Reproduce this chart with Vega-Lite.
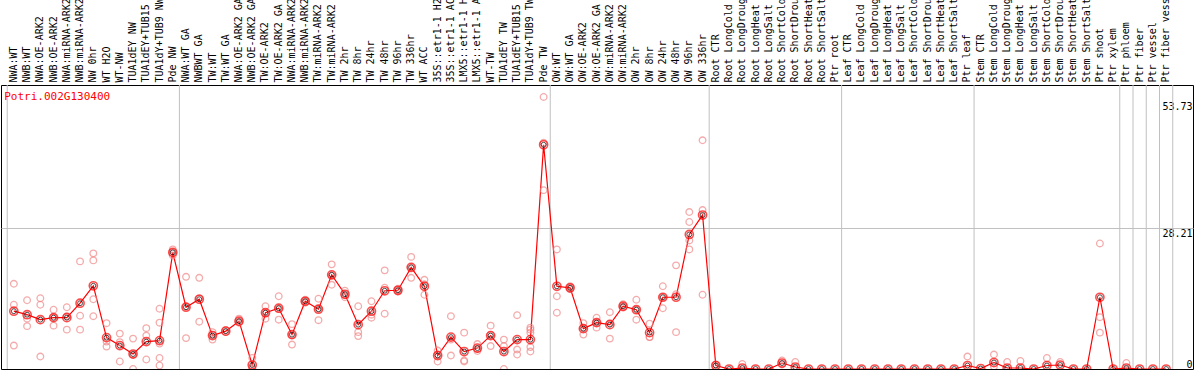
{
  "$schema": "https://vega.github.io/schema/vega-lite/v6.json",
  "width": 1192,
  "height": 284,
  "autosize": "none",
  "padding": {"left": 1, "top": 85, "right": 1, "bottom": 1},
  "background": "white",
  "config": {"view": {"stroke": "black", "strokeWidth": 1}},
  "datasets": {
    "means": [
      {"t": "NWA:WT", "v": 11.6}, {"t": "NWB:WT", "v": 10.9}, {"t": "NWA:OE-ARK2", "v": 9.9}, {"t": "NWB:OE-ARK2", "v": 10.3},
      {"t": "NWA:miRNA-ARK2", "v": 10.3}, {"t": "NWB:miRNA-ARK2", "v": 13.2}, {"t": "NW 0hr", "v": 16.7}, {"t": "WT H2O", "v": 6.3},
      {"t": "WT-NW", "v": 4.7}, {"t": "TUA1dEY NW", "v": 3.0}, {"t": "TUA1dEY+TUB15 NW", "v": 5.5}, {"t": "TUA1dY+TUB9 NW", "v": 5.7},
      {"t": "Pde NW", "v": 23.4}, {"t": "NWA:WT GA", "v": 12.4}, {"t": "NWBWT GA", "v": 14.0}, {"t": "TW:WT", "v": 6.7},
      {"t": "TW:WT GA", "v": 7.6}, {"t": "NWA:OE-ARK2 GA", "v": 9.6}, {"t": "NWB:OE-ARK2 GA", "v": 0.8}, {"t": "TW:OE-ARK2", "v": 11.3},
      {"t": "TW:OE-ARK2 GA", "v": 12.2}, {"t": "NWA:miRNA-ARK2 GA", "v": 6.9}, {"t": "NWB:miRNA-ARK2 GA", "v": 13.6}, {"t": "TW:miRNA-ARK2", "v": 12.0},
      {"t": "TW:miRNA-ARK2 GA", "v": 18.9}, {"t": "TW 2hr", "v": 15.0}, {"t": "TW 8hr", "v": 8.9}, {"t": "TW 24hr", "v": 11.6},
      {"t": "TW 48hr", "v": 15.7}, {"t": "TW 96hr", "v": 15.8}, {"t": "TW 336hr", "v": 20.4}, {"t": "WT ACC", "v": 16.6},
      {"t": "35S::etr1-1 H2O", "v": 2.7}, {"t": "35S::etr1-1 ACC", "v": 6.4}, {"t": "LMX5::etr1-1 H2O", "v": 3.5}, {"t": "LMX5::etr1-1 ACC", "v": 4.2},
      {"t": "WT-TW", "v": 6.7}, {"t": "TUA1dEY TW", "v": 3.5}, {"t": "TUA1dEY+TUB15 TW", "v": 5.9}, {"t": "TUA1dY+TUB9 TW", "v": 5.9},
      {"t": "Pde TW", "v": 45.0}, {"t": "OW:WT", "v": 16.6}, {"t": "OW:WT GA", "v": 16.3}, {"t": "OW:OE-ARK2", "v": 8.1},
      {"t": "OW:OE-ARK2 GA", "v": 9.3}, {"t": "OW:miRNA-ARK2", "v": 8.9}, {"t": "OW:miRNA-ARK2 GA", "v": 12.6}, {"t": "OW 2hr", "v": 11.9},
      {"t": "OW 8hr", "v": 7.3}, {"t": "OW 24hr", "v": 14.4}, {"t": "OW 48hr", "v": 14.4}, {"t": "OW 96hr", "v": 27.0},
      {"t": "OW 336hr", "v": 30.9}, {"t": "Root CTR", "v": 0.7}, {"t": "Root LongCold", "v": 0}, {"t": "Root LongDrought", "v": 0.2},
      {"t": "Root LongHeat", "v": 0}, {"t": "Root LongSalt", "v": 0}, {"t": "Root ShortCold", "v": 1.2}, {"t": "Root ShortDrought", "v": 0.4},
      {"t": "Root ShortHeat", "v": 0}, {"t": "Root ShortSalt", "v": 0}, {"t": "Ptr root", "v": 0}, {"t": "Leaf CTR", "v": 0},
      {"t": "Leaf LongCold", "v": 0}, {"t": "Leaf LongDrought", "v": 0}, {"t": "Leaf LongHeat", "v": 0}, {"t": "Leaf LongSalt", "v": 0},
      {"t": "Leaf ShortCold", "v": 0}, {"t": "Leaf ShortDrought", "v": 0}, {"t": "Leaf ShortHeat", "v": 0}, {"t": "Leaf ShortSalt", "v": 0},
      {"t": "Ptr leaf", "v": 0.7}, {"t": "Stem CTR", "v": 0.1}, {"t": "Stem LongCold", "v": 1.3}, {"t": "Stem LongDrought", "v": 0.2},
      {"t": "Stem LongHeat", "v": 0.2}, {"t": "Stem LongSalt", "v": 0}, {"t": "Stem ShortCold", "v": 0.7}, {"t": "Stem ShortDrought", "v": 0.8},
      {"t": "Stem ShortHeat", "v": 0}, {"t": "Stem ShortSalt", "v": 0}, {"t": "Ptr shoot", "v": 14.4}, {"t": "Ptr xylem", "v": 0},
      {"t": "Ptr phloem", "v": 0.2}, {"t": "Ptr fiber", "v": 0}, {"t": "Ptr vessel", "v": 0}, {"t": "Ptr fiber vessel", "v": 0}
    ],
    "reps": [
      {"t": "NWA:WT", "v": 17.1}, {"t": "NWA:WT", "v": 12.9}, {"t": "NWA:WT", "v": 4.7},
      {"t": "NWB:WT", "v": 13.8}, {"t": "NWB:WT", "v": 10.1}, {"t": "NWB:WT", "v": 8.6},
      {"t": "NWA:OE-ARK2", "v": 14.2}, {"t": "NWA:OE-ARK2", "v": 12.9}, {"t": "NWA:OE-ARK2", "v": 2.5},
      {"t": "NWB:OE-ARK2", "v": 11.9}, {"t": "NWB:OE-ARK2", "v": 8.7}, {"t": "NWB:OE-ARK2", "v": 10.3},
      {"t": "NWA:miRNA-ARK2", "v": 12.4}, {"t": "NWA:miRNA-ARK2", "v": 7.9}, {"t": "NWA:miRNA-ARK2", "v": 10.6},
      {"t": "NWB:miRNA-ARK2", "v": 21.6}, {"t": "NWB:miRNA-ARK2", "v": 10.7}, {"t": "NWB:miRNA-ARK2", "v": 7.9},
      {"t": "NW 0hr", "v": 23.2}, {"t": "NW 0hr", "v": 21.8}, {"t": "NW 0hr", "v": 14.0}, {"t": "NW 0hr", "v": 10.6},
      {"t": "WT H2O", "v": 9.2}, {"t": "WT H2O", "v": 5.5}, {"t": "WT H2O", "v": 4.5},
      {"t": "WT-NW", "v": 7.1}, {"t": "WT-NW", "v": 5.4}, {"t": "WT-NW", "v": 1.5},
      {"t": "TUA1dEY NW", "v": 6.1}, {"t": "TUA1dEY NW", "v": 0}, {"t": "TUA1dEY NW", "v": 2.9},
      {"t": "TUA1dEY+TUB15 NW", "v": 8.2}, {"t": "TUA1dEY+TUB15 NW", "v": 6.7}, {"t": "TUA1dEY+TUB15 NW", "v": 1.9},
      {"t": "TUA1dY+TUB9 NW", "v": 12.1}, {"t": "TUA1dY+TUB9 NW", "v": 9.3}, {"t": "TUA1dY+TUB9 NW", "v": 5.1}, {"t": "TUA1dY+TUB9 NW", "v": 2.2}, {"t": "TUA1dY+TUB9 NW", "v": 0.7},
      {"t": "Pde NW", "v": 24.0}, {"t": "Pde NW", "v": 23.4}, {"t": "Pde NW", "v": 22.8},
      {"t": "NWA:WT GA", "v": 18.5}, {"t": "NWA:WT GA", "v": 6.2}, {"t": "NWA:WT GA", "v": 12.5},
      {"t": "NWBWT GA", "v": 18.3}, {"t": "NWBWT GA", "v": 9.5}, {"t": "NWBWT GA", "v": 14.2},
      {"t": "TW:WT", "v": 7.4}, {"t": "TW:WT", "v": 5.9}, {"t": "TW:WT", "v": 6.8},
      {"t": "TW:WT GA", "v": 7.8}, {"t": "TW:WT GA", "v": 7.4},
      {"t": "NWA:OE-ARK2 GA", "v": 10.1}, {"t": "NWA:OE-ARK2 GA", "v": 9.3}, {"t": "NWA:OE-ARK2 GA", "v": 9.4},
      {"t": "NWB:OE-ARK2 GA", "v": 2.2}, {"t": "NWB:OE-ARK2 GA", "v": 0}, {"t": "NWB:OE-ARK2 GA", "v": 0.2},
      {"t": "TW:OE-ARK2", "v": 12.6}, {"t": "TW:OE-ARK2", "v": 10.1}, {"t": "TW:OE-ARK2", "v": 11.2},
      {"t": "TW:OE-ARK2 GA", "v": 14.6}, {"t": "TW:OE-ARK2 GA", "v": 9.9}, {"t": "TW:OE-ARK2 GA", "v": 12.1},
      {"t": "NWA:miRNA-ARK2 GA", "v": 9.0}, {"t": "NWA:miRNA-ARK2 GA", "v": 4.9}, {"t": "NWA:miRNA-ARK2 GA", "v": 6.8},
      {"t": "NWB:miRNA-ARK2 GA", "v": 13.9}, {"t": "NWB:miRNA-ARK2 GA", "v": 13.3}, {"t": "NWB:miRNA-ARK2 GA", "v": 13.6},
      {"t": "TW:miRNA-ARK2", "v": 14.1}, {"t": "TW:miRNA-ARK2", "v": 9.8}, {"t": "TW:miRNA-ARK2", "v": 12.1},
      {"t": "TW:miRNA-ARK2 GA", "v": 21.0}, {"t": "TW:miRNA-ARK2 GA", "v": 16.9}, {"t": "TW:miRNA-ARK2 GA", "v": 18.8},
      {"t": "TW 2hr", "v": 15.7}, {"t": "TW 2hr", "v": 14.4}, {"t": "TW 2hr", "v": 14.9},
      {"t": "TW 8hr", "v": 12.6}, {"t": "TW 8hr", "v": 7.4}, {"t": "TW 8hr", "v": 6.6},
      {"t": "TW 24hr", "v": 13.6}, {"t": "TW 24hr", "v": 10.3}, {"t": "TW 24hr", "v": 10.9},
      {"t": "TW 48hr", "v": 19.8}, {"t": "TW 48hr", "v": 16.3}, {"t": "TW 48hr", "v": 11.1},
      {"t": "TW 96hr", "v": 15.5}, {"t": "TW 96hr", "v": 16.1}, {"t": "TW 96hr", "v": 15.8},
      {"t": "TW 336hr", "v": 22.5}, {"t": "TW 336hr", "v": 18.3}, {"t": "TW 336hr", "v": 20.4},
      {"t": "WT ACC", "v": 17.9}, {"t": "WT ACC", "v": 14.9}, {"t": "WT ACC", "v": 17.0},
      {"t": "35S::etr1-1 H2O", "v": 3.7}, {"t": "35S::etr1-1 H2O", "v": 1.5}, {"t": "35S::etr1-1 H2O", "v": 2.9},
      {"t": "35S::etr1-1 ACC", "v": 10.6}, {"t": "35S::etr1-1 ACC", "v": 2.7}, {"t": "35S::etr1-1 ACC", "v": 5.9},
      {"t": "LMX5::etr1-1 H2O", "v": 7.3}, {"t": "LMX5::etr1-1 H2O", "v": 1.5}, {"t": "LMX5::etr1-1 H2O", "v": 1.7},
      {"t": "LMX5::etr1-1 ACC", "v": 5.0}, {"t": "LMX5::etr1-1 ACC", "v": 3.6}, {"t": "LMX5::etr1-1 ACC", "v": 4.0},
      {"t": "WT-TW", "v": 8.7}, {"t": "WT-TW", "v": 4.6}, {"t": "WT-TW", "v": 6.8},
      {"t": "TUA1dEY TW", "v": 5.9}, {"t": "TUA1dEY TW", "v": 0}, {"t": "TUA1dEY TW", "v": 4.6},
      {"t": "TUA1dEY+TUB15 TW", "v": 10.8}, {"t": "TUA1dEY+TUB15 TW", "v": 3.9}, {"t": "TUA1dEY+TUB15 TW", "v": 2.9},
      {"t": "TUA1dY+TUB9 TW", "v": 8.3}, {"t": "TUA1dY+TUB9 TW", "v": 7.9}, {"t": "TUA1dY+TUB9 TW", "v": 7.3}, {"t": "TUA1dY+TUB9 TW", "v": 4.4}, {"t": "TUA1dY+TUB9 TW", "v": 3.5},
      {"t": "Pde TW", "v": 54.6}, {"t": "Pde TW", "v": 35.9}, {"t": "Pde TW", "v": 45.4},
      {"t": "OW:WT", "v": 24.0}, {"t": "OW:WT", "v": 14.6}, {"t": "OW:WT", "v": 11.3},
      {"t": "OW:WT GA", "v": 16.6}, {"t": "OW:WT GA", "v": 16.0}, {"t": "OW:WT GA", "v": 16.3},
      {"t": "OW:OE-ARK2", "v": 9.2}, {"t": "OW:OE-ARK2", "v": 6.9}, {"t": "OW:OE-ARK2", "v": 8.2},
      {"t": "OW:OE-ARK2 GA", "v": 10.3}, {"t": "OW:OE-ARK2 GA", "v": 8.3}, {"t": "OW:OE-ARK2 GA", "v": 9.3},
      {"t": "OW:miRNA-ARK2", "v": 11.4}, {"t": "OW:miRNA-ARK2", "v": 6.1}, {"t": "OW:miRNA-ARK2", "v": 9.2},
      {"t": "OW:miRNA-ARK2 GA", "v": 13.0}, {"t": "OW:miRNA-ARK2 GA", "v": 12.3}, {"t": "OW:miRNA-ARK2 GA", "v": 12.5},
      {"t": "OW 2hr", "v": 13.9}, {"t": "OW 2hr", "v": 9.9}, {"t": "OW 2hr", "v": 11.9},
      {"t": "OW 8hr", "v": 9.1}, {"t": "OW 8hr", "v": 6.4}, {"t": "OW 8hr", "v": 6.4},
      {"t": "OW 24hr", "v": 16.6}, {"t": "OW 24hr", "v": 12.2}, {"t": "OW 24hr", "v": 14.4},
      {"t": "OW 48hr", "v": 20.8}, {"t": "OW 48hr", "v": 7.4}, {"t": "OW 48hr", "v": 15.0},
      {"t": "OW 96hr", "v": 31.5}, {"t": "OW 96hr", "v": 29.5}, {"t": "OW 96hr", "v": 25.8}, {"t": "OW 96hr", "v": 24.0},
      {"t": "OW 336hr", "v": 45.9}, {"t": "OW 336hr", "v": 14.9}, {"t": "OW 336hr", "v": 31.9},
      {"t": "Root CTR", "v": 0.9}, {"t": "Root CTR", "v": 0.5},
      {"t": "Root LongDrought", "v": 1.0},
      {"t": "Root ShortCold", "v": 1.7}, {"t": "Root ShortCold", "v": 0.9},
      {"t": "Root ShortDrought", "v": 1.4},
      {"t": "Ptr leaf", "v": 2.5},
      {"t": "Stem LongCold", "v": 2.9}, {"t": "Stem LongCold", "v": 0.5},
      {"t": "Stem LongDrought", "v": 1.4},
      {"t": "Stem LongHeat", "v": 1.6},
      {"t": "Stem ShortCold", "v": 2.2},
      {"t": "Stem ShortDrought", "v": 1.4},
      {"t": "Ptr shoot", "v": 25.2}, {"t": "Ptr shoot", "v": 10.4}, {"t": "Ptr shoot", "v": 7.3},
      {"t": "Ptr phloem", "v": 1.2}
    ],
    "title": [{"label": "Potri.002G130400"}]
  },
  "encoding": {
    "x": {
      "field": "t", "type": "nominal",
      "scale": {"type": "band", "paddingInner": 0, "paddingOuter": 1.846, "align": 0.235,
        "domain": ["NWA:WT","NWB:WT","NWA:OE-ARK2","NWB:OE-ARK2","NWA:miRNA-ARK2","NWB:miRNA-ARK2","NW 0hr","WT H2O","WT-NW","TUA1dEY NW","TUA1dEY+TUB15 NW","TUA1dY+TUB9 NW","Pde NW","NWA:WT GA","NWBWT GA","TW:WT","TW:WT GA","NWA:OE-ARK2 GA","NWB:OE-ARK2 GA","TW:OE-ARK2","TW:OE-ARK2 GA","NWA:miRNA-ARK2 GA","NWB:miRNA-ARK2 GA","TW:miRNA-ARK2","TW:miRNA-ARK2 GA","TW 2hr","TW 8hr","TW 24hr","TW 48hr","TW 96hr","TW 336hr","WT ACC","35S::etr1-1 H2O","35S::etr1-1 ACC","LMX5::etr1-1 H2O","LMX5::etr1-1 ACC","WT-TW","TUA1dEY TW","TUA1dEY+TUB15 TW","TUA1dY+TUB9 TW","Pde TW","OW:WT","OW:WT GA","OW:OE-ARK2","OW:OE-ARK2 GA","OW:miRNA-ARK2","OW:miRNA-ARK2 GA","OW 2hr","OW 8hr","OW 24hr","OW 48hr","OW 96hr","OW 336hr","Root CTR","Root LongCold","Root LongDrought","Root LongHeat","Root LongSalt","Root ShortCold","Root ShortDrought","Root ShortHeat","Root ShortSalt","Ptr root","Leaf CTR","Leaf LongCold","Leaf LongDrought","Leaf LongHeat","Leaf LongSalt","Leaf ShortCold","Leaf ShortDrought","Leaf ShortHeat","Leaf ShortSalt","Ptr leaf","Stem CTR","Stem LongCold","Stem LongDrought","Stem LongHeat","Stem LongSalt","Stem ShortCold","Stem ShortDrought","Stem ShortHeat","Stem ShortSalt","Ptr shoot","Ptr xylem","Ptr phloem","Ptr fiber","Ptr vessel","Ptr fiber vessel"]},
      "axis": {"orient": "top", "title": null, "labelAngle": -90, "labelPadding": 3, "ticks": false, "domain": false, "grid": false,
        "labelFont": "DejaVu Sans Mono", "labelFontSize": 10, "labelColor": "#000", "labelLimit": 300, "labelOverlap": false, "labelBound": false}
    }
  },
  "layer": [
    {
      "data": {"name": "means"},
      "transform": [{"filter": {"field": "t", "oneOf": ["NWA:WT", "NWA:WT GA", "OW:WT", "Root CTR", "Leaf CTR", "Stem CTR", "Ptr phloem", "Ptr fiber", "Ptr vessel", "Ptr fiber vessel"]}}],
      "mark": {"type": "rule", "color": "#c0c0c0", "strokeWidth": 1},
      "encoding": {"x": {"field": "t", "type": "nominal", "bandPosition": 0}}
    },
    {
      "data": {"name": "means"},
      "transform": [{"filter": {"field": "t", "equal": "Ptr fiber vessel"}}],
      "mark": {"type": "rule", "color": "#c0c0c0", "strokeWidth": 1},
      "encoding": {"x": {"field": "t", "type": "nominal", "bandPosition": 1}}
    },
    {
      "data": {"name": "means"},
      "mark": {"type": "line", "color": "#ff0000", "strokeWidth": 1.2, "clip": true},
      "encoding": {
        "y": {"field": "v", "type": "quantitative", "scale": {"domain": [0, 57], "nice": false, "zero": true},
          "axis": {"orient": "right", "title": null, "values": [0, 28.21, 53.73], "format": ".4~r", "ticks": false, "domain": false,
            "grid": true, "gridColor": "#c0c0c0", "gridOpacity": {"condition": {"test": "datum.value > 28 && datum.value < 29", "value": 1}, "value": 0},
            "labelAlign": "right", "labelPadding": -1, "labelFont": "DejaVu Sans Mono", "labelFontSize": 10, "labelColor": "#000",
            "labelBaseline": {"condition": {"test": "datum.value == 0", "value": "bottom"}, "value": "top"}}}
      }
    },
    {
      "data": {"name": "reps"},
      "mark": {"type": "point", "shape": "circle", "filled": false, "color": "#f08888", "strokeWidth": 1.3, "size": 44, "clip": true},
      "encoding": {"y": {"field": "v", "type": "quantitative"}}
    },
    {
      "data": {"name": "means"},
      "mark": {"type": "point", "shape": "circle", "filled": false, "color": "#ff0000", "strokeWidth": 1.6, "size": 66, "clip": true},
      "encoding": {"y": {"field": "v", "type": "quantitative"}}
    },
    {
      "data": {"name": "means"},
      "mark": {"type": "point", "shape": "circle", "filled": false, "color": "#000000", "strokeWidth": 1, "size": 24, "clip": true},
      "encoding": {"y": {"field": "v", "type": "quantitative"}}
    },
    {
      "data": {"name": "title"},
      "mark": {"type": "text", "color": "#ff0000", "font": "DejaVu Sans Mono", "fontSize": 11, "align": "left", "baseline": "top", "dx": -3, "dy": 6},
      "encoding": {
        "text": {"field": "label", "type": "nominal"},
        "x": {"datum": "NWA:WT", "type": "nominal", "bandPosition": 0},
        "y": {"datum": 57, "type": "quantitative"}
      }
    }
  ]
}
